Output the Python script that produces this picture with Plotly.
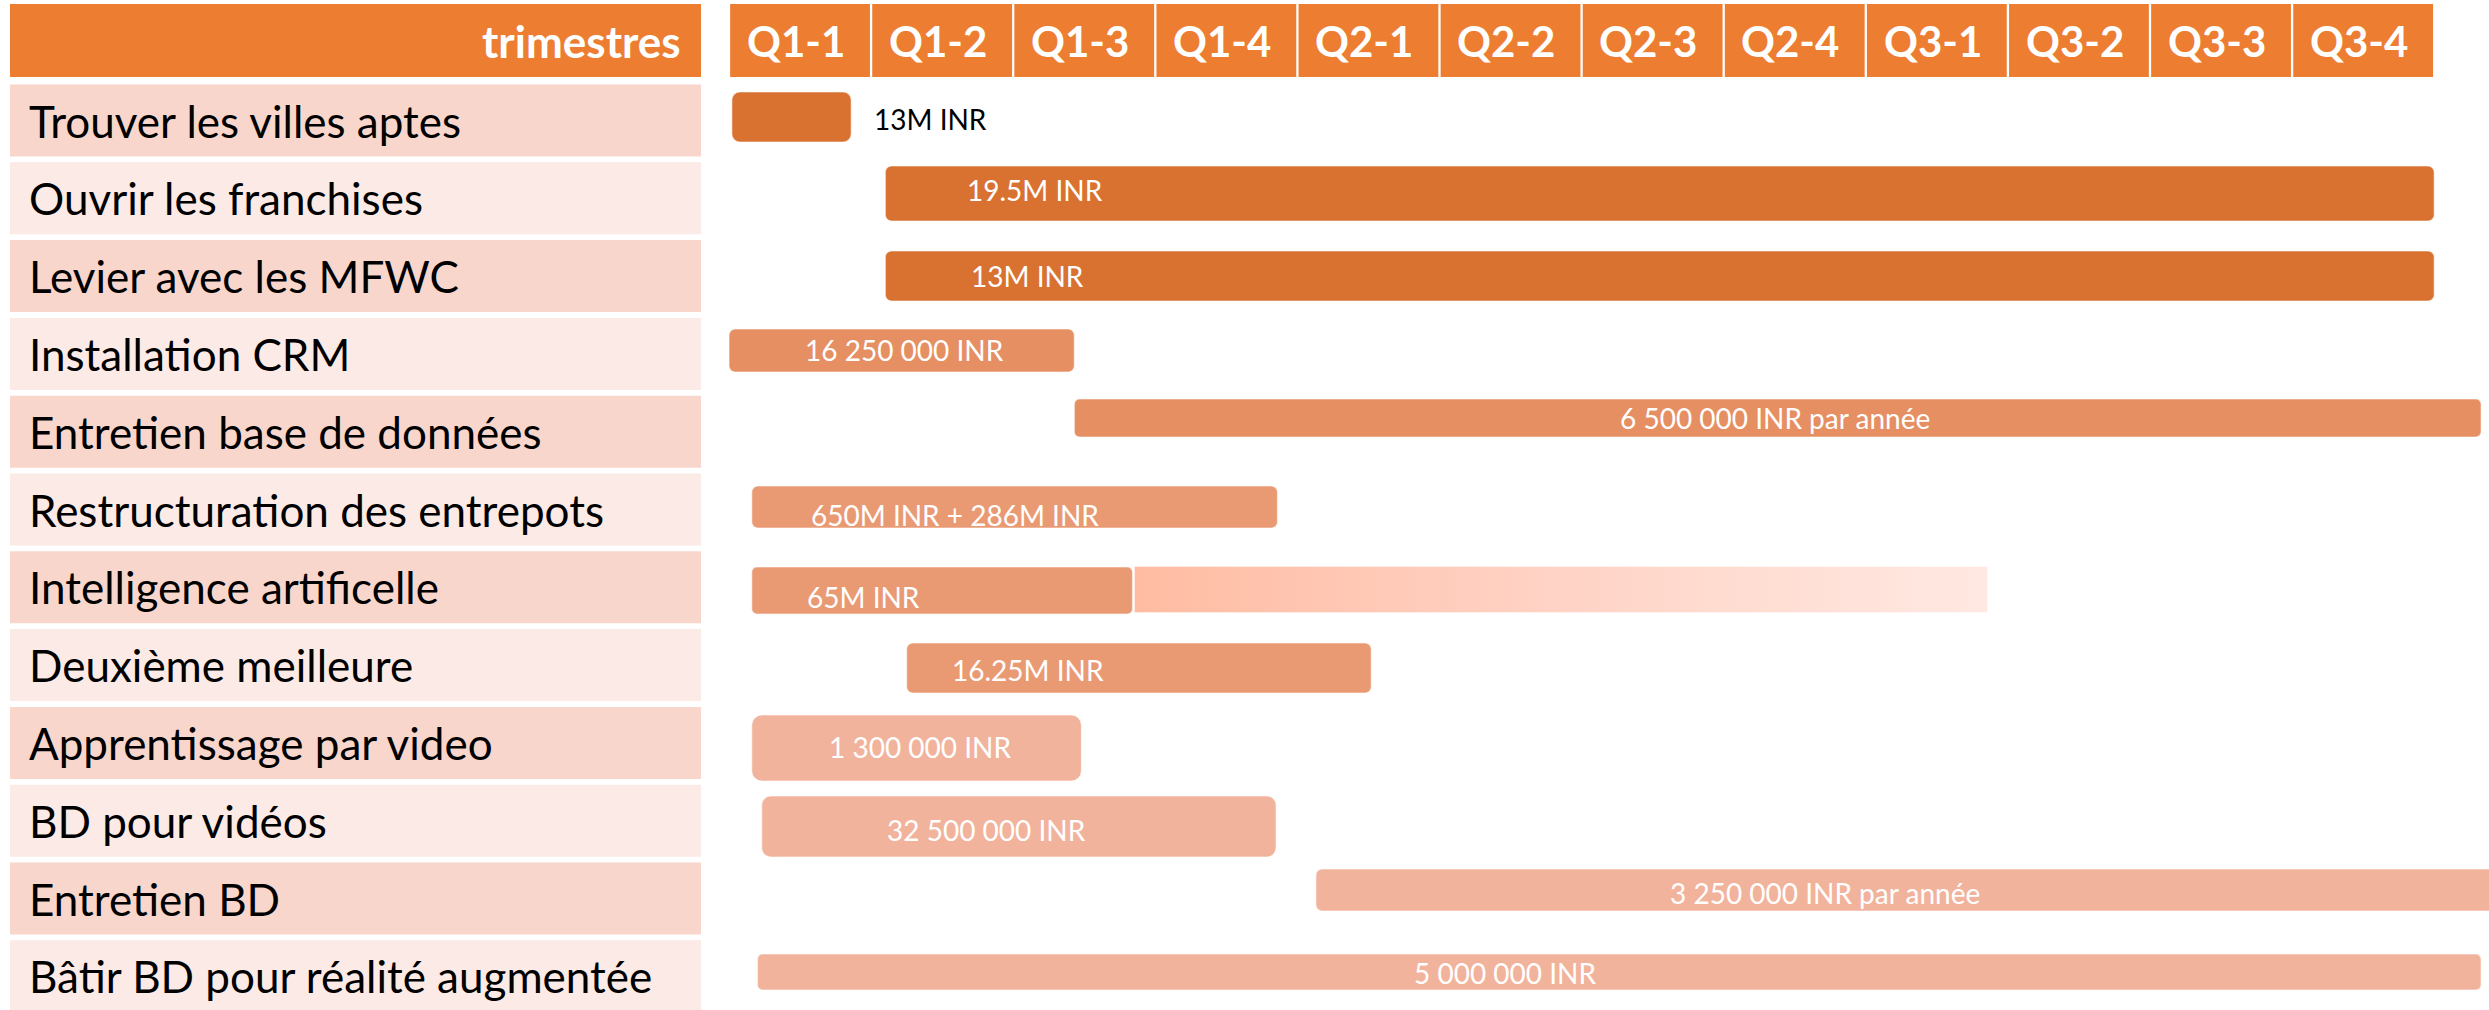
import plotly.graph_objects as go

# ---------------- data ----------------
quarters = ["Q1-1", "Q1-2", "Q1-3", "Q1-4", "Q2-1", "Q2-2", "Q2-3", "Q2-4",
            "Q3-1", "Q3-2", "Q3-3", "Q3-4"]
header_title = "trimestres"
tasks = [
    "Trouver les villes aptes",
    "Ouvrir les franchises",
    "Levier avec les MFWC",
    "Installation CRM",
    "Entretien base de données",
    "Restructuration des entrepots",
    "Intelligence artificelle",
    "Deuxième meilleure",
    "Apprentissage par video",
    "BD pour vidéos",
    "Entretien BD",
    "Bâtir BD pour réalité augmentée",
]
# start / end in quarter units (0 = start of Q1-1)
starts = [0.02, 1.10, 1.10, 0.00, 2.43, 0.16, 0.16, 1.25, 0.16, 0.23, 4.13, 0.20]
ends = [0.86, 12.00, 12.00, 2.43, 12.33, 3.86, 2.84, 4.52, 2.48, 3.85, 12.60, 12.33]
costs = [
    "13M INR",
    "19.5M INR",
    "13M INR",
    "16 250 000 INR",
    "6 500 000 INR par année",
    "650M INR + 286M INR",
    "65M INR",
    "16.25M INR",
    "1 300 000 INR",
    "32 500 000 INR",
    "3 250 000 INR par année",
    "5 000 000 INR",
]
# extension of "Intelligence artificelle" (faded segment)
ai_row = 6
ai_ext_start = 2.85
ai_ext_end = 8.86

# ---------------- styles / geometry ----------------
W, H = 2489, 1010
PX_X, X0_PX = 142.1, 729.0      # pixels per quarter, pixel of Q1-1 start
PX_Y, Y0_PX = 77.8, 120.5       # pixels per row, pixel of first row centre

HEADER = "#ED7D31"
ROW_DARK = "#F8D6CB"
ROW_LIGHT = "#FBEAE5"
bar_colors = ["#D97230"] * 3 + ["#E68F62"] * 2 + ["#EA9A73"] * 3 + ["#F2B39C"] * 4
bar_top_px = [92, 166, 251, 329, 399, 486, 567, 643, 715, 796, 869, 954]
bar_h_px = [50, 55, 50, 43, 38, 42, 47, 50, 66, 61, 42, 36]
bar_radius = [8, 6, 6, 6, 5, 6, 5, 6, 10, 9, 6, 5]
label_dx_px = [140, 80, 84, 74, 544, 57, 53, 43, 75, 123, 352, 655]
label_y_px = [119, 190, 276, 350, 418, 515, 597, 670, 747, 830, 893, 973]
label_colors = ["#000000"] + ["#FFFFFF"] * 11
ai_ext_top_px, ai_ext_h_px = 566, 47
FONT = "Lato"


def py(p):
    return (p - Y0_PX) / PX_Y


def pxx(p):
    return (p - X0_PX) / PX_X


fig = go.Figure()

# task bars
for i in range(len(tasks)):
    centre_px = Y0_PX + PX_Y * i
    fig.add_trace(go.Bar(
        orientation="h",
        y=[i],
        x=[ends[i] - starts[i]],
        base=[starts[i]],
        width=[bar_h_px[i] / PX_Y],
        offset=[(bar_top_px[i] - centre_px) / PX_Y],
        marker=dict(color=bar_colors[i], cornerradius=bar_radius[i],
                    line=dict(color="rgba(255,255,255,0.55)", width=1.2)),
        hoverinfo="skip",
        showlegend=False,
    ))

# faded gradient extension
t = py(ai_ext_top_px)
b = py(ai_ext_top_px + ai_ext_h_px)
fig.add_trace(go.Scatter(
    x=[ai_ext_start, ai_ext_end, ai_ext_end, ai_ext_start, ai_ext_start],
    y=[t, t, b, b, t],
    mode="lines",
    fill="toself",
    line=dict(color="rgba(255,255,255,0.9)", width=1.5),
    fillgradient=dict(type="horizontal",
                      colorscale=[[0, "#FFBCA2"], [0.5, "#FFD3C6"], [1, "#FFE9E2"]]),
    hoverinfo="skip",
    showlegend=False,
))

shapes = []
annotations = []

# header
hy0, hy1 = py(4), py(77)
shapes.append(dict(type="rect", xref="paper", yref="y", x0=10 / W, x1=701 / W,
                   y0=hy0, y1=hy1, fillcolor=HEADER, line=dict(width=0), layer="below"))
annotations.append(dict(xref="paper", yref="y", x=683 / W, y=(hy0 + hy1) / 2,
                        text="<b>%s</b>" % header_title, showarrow=False,
                        xanchor="right", yanchor="middle",
                        font=dict(family=FONT, size=44, color="white")))
for q, name in enumerate(quarters):
    shapes.append(dict(type="rect", xref="x", yref="y", x0=q + 0.008, x1=q + 1 - 0.008,
                       y0=hy0, y1=hy1, fillcolor=HEADER, line=dict(width=0), layer="below"))
    annotations.append(dict(xref="x", yref="y", x=q + 0.47, y=(hy0 + hy1) / 2,
                            text="<b>%s</b>" % name, showarrow=False,
                            xanchor="center", yanchor="middle",
                            font=dict(family=FONT, size=42, color="white")))

# task label column
for i, name in enumerate(tasks):
    shapes.append(dict(type="rect", xref="paper", yref="y", x0=10 / W, x1=701 / W,
                       y0=i - 0.463, y1=i + 0.463,
                       fillcolor=ROW_DARK if i % 2 == 0 else ROW_LIGHT,
                       line=dict(width=0), layer="below"))
    annotations.append(dict(xref="paper", yref="y", x=27 / W, y=i + 0.0, text=name,
                            showarrow=False, xanchor="left", yanchor="middle",
                            font=dict(family=FONT, size=44, color="black")))

# cost labels
for i, txt in enumerate(costs):
    annotations.append(dict(xref="x", yref="y",
                            x=starts[i] + label_dx_px[i] / PX_X,
                            y=py(label_y_px[i]), text=txt, showarrow=False,
                            xanchor="left", yanchor="middle",
                            font=dict(family=FONT, size=28, color=label_colors[i])))

fig.update_layout(
    width=W, height=H,
    margin=dict(l=0, r=0, t=0, b=0),
    paper_bgcolor="white", plot_bgcolor="white",
    barmode="overlay",
    showlegend=False,
    shapes=shapes,
    annotations=annotations,
    xaxis=dict(range=[pxx(0), pxx(W)], visible=False, fixedrange=True),
    yaxis=dict(range=[py(H), py(0)], visible=False, fixedrange=True),
)

fig.write_html("out.html")
